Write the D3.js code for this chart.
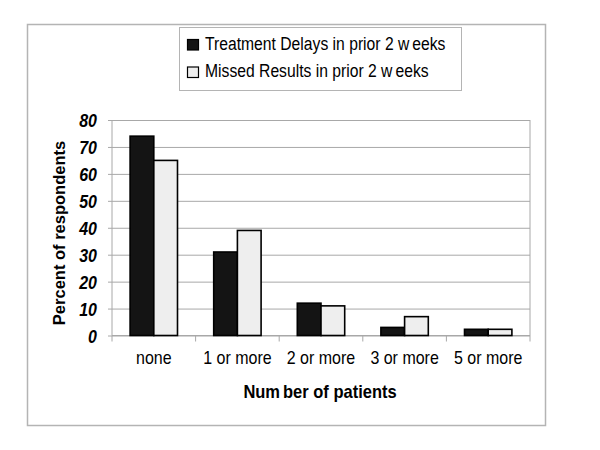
<!DOCTYPE html>
<html><head><meta charset="utf-8">
<script src="https://cdn.jsdelivr.net/npm/d3@7"></script>
<style>body{margin:0;background:#fff}svg{display:block;font-family:"Liberation Sans",Arial,sans-serif}</style>
</head><body>
<script>
const categories = ["none","1 or more","2 or more","3 or more","5 or more"];
const seriesNames = ["Treatment Delays in prior 2 weeks","Missed Results in prior 2 weeks"];
const treatmentDelays = [74, 31, 12, 3, 2.3];
const missedResults = [65, 39, 11, 7, 2.3];
const yTicks = [0,10,20,30,40,50,60,70,80];

const W=600,H=450,SY=1.15;
const svg=d3.select("body").append("svg").attr("width",W).attr("height",H);
svg.append("rect").attr("width",W).attr("height",H).attr("fill","#fff");
// outer frame
svg.append("rect").attr("x",27.5).attr("y",24.5).attr("width",518).attr("height",401)
  .attr("fill","none").attr("stroke","#b4b4b4").attr("stroke-width",1.5);

const x0=112,x1=530,yb=335.5,yt=120;
const x=d3.scaleBand().domain(categories).range([x0,x1]).padding(0);
const xs=d3.scaleBand().domain(seriesNames).range([0,x.bandwidth()]).paddingInner(0).paddingOuter(0.764);
const y=d3.scaleLinear().domain([0,80]).range([yb,yt]);

// gridlines + y labels
const ya=svg.append("g").attr("transform",`translate(${x0-4},0)`)
  .call(d3.axisLeft(y).tickValues(yTicks).tickSize(-(x1-x0+4)).tickPadding(11).tickFormat(d3.format("d")));
ya.select(".domain").remove();
ya.selectAll(".tick line").attr("stroke","#a8a8a8").attr("stroke-width",1);
ya.selectAll(".tick text").attr("fill","#000").style("font-size","16px").style("font-weight","bold").style("font-style","italic")
  .attr("dy",null).attr("x",null).attr("transform",`translate(-11,6.5) scale(1,${SY})`);
// left axis and right border
svg.append("line").attr("x1",x0).attr("x2",x0).attr("y1",yt).attr("y2",yb).attr("stroke","#a8a8a8");
svg.append("line").attr("x1",x1).attr("x2",x1).attr("y1",yt).attr("y2",yb+6).attr("stroke","#a8a8a8");

// x axis
const xa=svg.append("g").attr("transform",`translate(0,${yb})`)
  .call(d3.axisBottom(x).tickSize(0).tickPadding(15));
xa.select(".domain").remove();
xa.selectAll(".tick text").attr("fill","#000").style("font-size","16px")
  .attr("dy",null).attr("y",null).attr("transform",`translate(0,28.5) scale(1,${SY})`);
svg.append("line").attr("x1",x0).attr("x2",x1).attr("y1",yb).attr("y2",yb).attr("stroke","#a8a8a8");
svg.selectAll(".ctick").data(categories).enter().append("line")
  .attr("x1",d=>x(d)).attr("x2",d=>x(d)).attr("y1",yb).attr("y2",yb+6).attr("stroke","#a8a8a8");

// bars
const fills=["#141414","#eeeeee"];
const data=[treatmentDelays,missedResults];
seriesNames.forEach((s,si)=>{
  svg.append("g").selectAll("rect").data(categories).enter().append("rect")
    .attr("x",(c)=>x(c)+xs(s)).attr("width",xs.bandwidth())
    .attr("y",(c,i)=>y(data[si][i])).attr("height",(c,i)=>yb-y(data[si][i]))
    .attr("fill",fills[si]).attr("stroke","#000").attr("stroke-width",1.6);
});

// axis titles
svg.append("text").attr("transform","translate(65,233) rotate(-90)").attr("text-anchor","middle")
  .style("font-size","16.5px").style("font-weight","bold").text("Percent of respondents");
const xt=svg.append("text").attr("transform",`translate(320,398) scale(1,${SY})`).attr("text-anchor","middle")
  .style("font-size","16.5px").style("font-weight","bold");
xt.append("tspan").text("Num");
xt.append("tspan").attr("dx",3).text("ber of patients");

// legend
svg.append("rect").attr("x",179.5).attr("y",27.5).attr("width",282).attr("height",63)
  .attr("fill","#fff").attr("stroke","#b4b4b4");
const ly=[49.5,77];
const lg=svg.append("g").selectAll("g").data(seriesNames).enter().append("g");
lg.append("rect").attr("x",187.5).attr("y",(d,i)=>ly[i]-10).attr("width",11).attr("height",10.5)
  .attr("fill",(d,i)=>fills[i]).attr("stroke","#000").attr("stroke-width",1.2);
const lt=lg.append("text").attr("transform",(d,i)=>`translate(205,${ly[i]}) scale(1,${SY})`).style("font-size","15.7px");
lt.append("tspan").text(d=>d.slice(0,d.length-5)+"w");
lt.append("tspan").attr("dx",3).text("eeks");
</script>
</body></html>
